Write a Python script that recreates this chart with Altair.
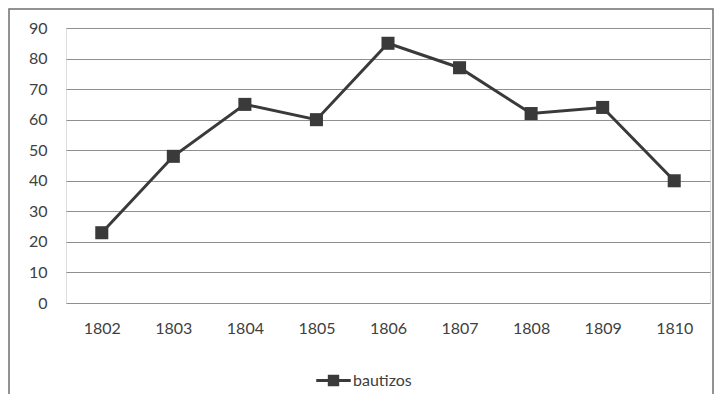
import altair as alt
import pandas as pd

years = ["1802", "1803", "1804", "1805", "1806", "1807", "1808", "1809", "1810"]
bautizos = [23, 48, 65, 60, 85, 77, 62, 64, 40]
series_name = "bautizos"
y_ticks = [0, 10, 20, 30, 40, 50, 60, 70, 80, 90]

df = pd.DataFrame({"year": years, "value": bautizos, "serie": [series_name] * len(years)})

FONT = "Lato"
LINE_COLOR = "#3a3a3a"
TEXT_COLOR = "#404040"
FS = 16

x_enc = alt.X(
    "year:O", sort=years, scale=alt.Scale(padding=0.5),
    axis=alt.Axis(title=None, labelAngle=0, ticks=False, tickSize=0, domain=False,
                  labelPadding=17, labelFontSize=FS, labelColor=TEXT_COLOR, labelFont=FONT),
)
y_enc = alt.Y(
    "value:Q", scale=alt.Scale(domain=[0, 90], nice=False, zero=True),
    axis=alt.Axis(title=None, values=y_ticks, ticks=False, tickSize=0, domain=False,
                  labelPadding=19, labelFontSize=FS, labelColor=TEXT_COLOR, labelFont=FONT,
                  grid=True, gridColor="#8f8f8f", gridWidth=1.2),
)

base = alt.Chart(df)

line = base.mark_line(color=LINE_COLOR, strokeWidth=3).encode(x=x_enc, y=y_enc)

legend_path = "M-1,-0.09H1V0.09H-1Z M-0.33,-0.33H0.33V0.33H-0.33Z"

points = base.mark_point(shape="square", filled=True, size=170, opacity=1).encode(
    x=x_enc, y=y_enc,
    color=alt.Color(
        "serie:N", scale=alt.Scale(domain=[series_name], range=[LINE_COLOR]),
        legend=alt.Legend(title=None, orient="none", legendX=250, legendY=335, padding=0,
                          symbolType=legend_path, symbolSize=1190, symbolStrokeWidth=0,
                          labelFontSize=FS, labelFont=FONT, labelColor=TEXT_COLOR, labelOffset=2),
    ),
)

border_df = pd.DataFrame({"k": [0]})
border = alt.Chart(border_df).mark_rect(filled=False, stroke="#6f6f6f", strokeWidth=1.5).encode(
    x=alt.value(-57), x2=alt.value(647), y=alt.value(-19), y2=alt.value(400)
)

chart = alt.layer(border, line, points).properties(
    width=644, height=275,
    autosize=alt.AutoSizeParams(type="none"),
    padding={"left": 58, "top": 20, "right": 6, "bottom": 91},
).configure_view(stroke=None).configure(background="white")

chart.save("out.html", embed_options={"renderer": "svg", "actions": False})
